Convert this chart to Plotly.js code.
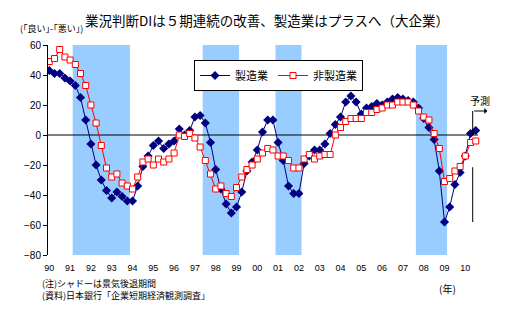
<!DOCTYPE html>
<html><head><meta charset="utf-8">
<script src="https://cdn.plot.ly/plotly-3.0.1.min.js"></script>
<style>html,body{margin:0;padding:0;background:#fff}#chart{width:512px;height:322px}</style>
</head><body><div id="chart"></div>
<script>
// Quarterly survey points, 1990 Q1 .. 2010 Q3 (last point = forecast)
const categories = [];
for (let y = 1990; y <= 2010; y++) {
  for (const m of [3, 6, 9, 12]) {
    if (categories.length < 83) categories.push(y + '/' + m);
  }
}
const yearTickVals = categories.filter(c => c.endsWith('/3'));
const yearTickText = ['90','91','92','93','94','95','96','97','98','99','00','01','02','03','04','05','06','07','08','09','10'];

const manufacturing = [
  43, 41, 41, 38, 36, 33, 25, 10, -6, -20, -30, -37, -42, -38, -41, -44,
  -44, -34, -21, -14, -7, -4, -9, -6, -4, 4, 0, 3, 12, 13, 8, -5,
  -23, -36, -46, -52, -48, -38, -24, -18, -10, 2, 10, 10, -5, -17, -34, -39,
  -39, -19, -14, -10, -10, -6, 1, 7, 12, 22, 26, 22, 14, 18, 19, 21,
  20, 22, 24, 25, 24, 23, 22, 18, 11, 5, -3, -24, -58, -48, -33, -25,
  -14, 1, 3
];
const nonManufacturing = [
  49, 51, 57, 52, 50, 47, 41, 33, 20, 8, -7, -22, -28, -26, -32, -34,
  -36, -28, -18, -16, -20, -16, -18, -16, -12, 0, -1, 1, -2, -8, -17, -26,
  -36, -34, -39, -41, -35, -28, -23, -20, -16, -12, -9, -10, -14, -14, -17, -22,
  -22, -16, -13, -16, -14, -13, -13, 0, 5, 9, 11, 11, 11, 15, 15, 17,
  18, 20, 20, 22, 22, 22, 20, 16, 12, 10, 1, -9, -31, -29, -24, -21,
  -14, -5, -4
];
// Recession periods (first and last quarter index shaded)
const recessionStart = ['1991/6', '1997/9', '2001/3', '2007/12'];
const recessionEnd   = ['1993/12', '1999/3', '2002/3', '2009/3'];

const idx = c => categories.indexOf(c);

const traces = [
  {type:'scatter', mode:'lines+markers', name:'製造業', x:categories, y:manufacturing,
   line:{color:'#000080', width:1}, marker:{symbol:'diamond', size:7, color:'#000080'}},
  {type:'scatter', mode:'lines+markers', name:'非製造業', x:categories, y:nonManufacturing,
   line:{color:'#FF0000', width:1}, marker:{symbol:'square', size:6, color:'#FFFFFF', line:{color:'#FF0000', width:1}}}
];

const shapes = recessionStart.map((s, i) => ({
  type:'rect', xref:'x', yref:'paper', x0: idx(s) - 0.5, x1: idx(recessionEnd[i]) + 0.5, y0:0, y1:1,
  fillcolor:'#99CCFF', line:{width:0}, layer:'below'
}));
shapes.push({type:'line', xref:'x', yref:'y', x0:-0.25, x1:82.44, y0:0, y1:0, line:{color:'#000', width:1}, layer:'below'});
shapes.push({type:'line', xref:'x', yref:'y', x0:81.42, x1:81.42, y0:16, y1:0, line:{color:'#000', width:1}});
shapes.push({type:'line', xref:'x', yref:'y', x0:81.42, x1:81.42, y0:-21.5, y1:-58, line:{color:'#000', width:1}});

const jp = "'Noto Sans CJK JP', sans-serif";
const layout = {
  width:512, height:322,
  margin:{l:48, r:12, t:45, b:67, pad:0},
  paper_bgcolor:'#fff', plot_bgcolor:'#fff',
  font:{family:"'Liberation Sans', 'Noto Sans CJK JP', sans-serif", color:'#000'},
  title:{text:'業況判断DIは５期連続の改善、製造業はプラスへ（大企業）',
    font:{family:jp, size:13.5, color:'#000'}, x:267/512, xanchor:'center', y:1-21/322, yanchor:'middle'},
  xaxis:{type:'category', range:[-0.25, 86.67], tickvals:yearTickVals, ticktext:yearTickText,
    showgrid:false, zeroline:false, showline:false, ticks:'', tickfont:{size:9}, ticklabelstandoff:6},
  yaxis:{range:[-80, 60], tickvals:[-80,-60,-40,-20,0,20,40,60], showgrid:false, zeroline:false,
    showline:true, linecolor:'#000', linewidth:1, ticks:'outside', ticklen:4, tickcolor:'#000', tickwidth:1,
    tickfont:{size:10}},
  showlegend:true,
  legend:{orientation:'h', x:(194-48)/452, y:(255-60)/210, xanchor:'left', yanchor:'top',
    bordercolor:'#000', borderwidth:1, bgcolor:'#fff', font:{family:jp, size:11}},
  shapes:shapes,
  annotations:[
    {text:'(｢良い｣-｢悪い｣)', xref:'paper', yref:'paper', x:(18-48)/452, y:(255-28)/210, xanchor:'left', yanchor:'middle', showarrow:false, font:{family:jp, size:9}},
    {text:'(注)シャドーは景気後退期間<br>(資料)日本銀行「企業短期経済観測調査」', xref:'paper', yref:'paper', x:(40-48)/452, y:(255-289.5)/210, xanchor:'left', yanchor:'middle', align:'left', showarrow:false, font:{family:jp, size:9}},
    {text:'(年)', xref:'paper', yref:'paper', x:(447-48)/452, y:(255-288)/210, xanchor:'center', yanchor:'middle', showarrow:false, font:{family:jp, size:10}},
    {text:'予測', xref:'x', yref:'y', x:82.83, y:22.7, xanchor:'center', yanchor:'middle', showarrow:false, font:{family:jp, size:10}},
    {text:'', xref:'x', yref:'y', x:84.23, y:16, axref:'x', ayref:'y', ax:81.42, ay:16, showarrow:true, arrowhead:1, arrowsize:1, arrowwidth:1, arrowcolor:'#000', standoff:0, startstandoff:0}
  ]
};
Plotly.newPlot('chart', traces, layout, {displayModeBar:false, staticPlot:true});
</script></body></html>
